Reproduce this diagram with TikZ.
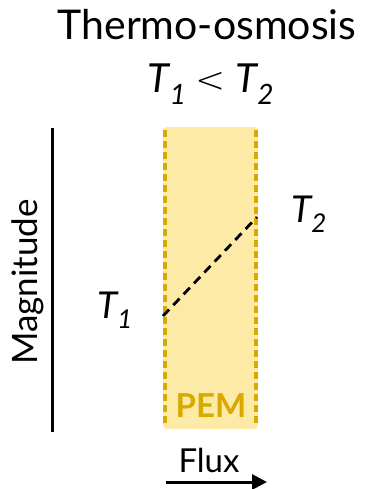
\documentclass[tikz,border=0pt]{standalone}
\usepackage{fontspec}
\setmainfont{Lato}
\newfontfamily\symfam{DejaVu Sans ExtraLight}
\usetikzlibrary{arrows.meta}
\definecolor{pemfill}{HTML}{FCEAA6}
\definecolor{pemgold}{HTML}{D8AA00}
\tikzset{
  lbl/.style={inner sep=0pt, anchor=base},
  pemedge/.style={draw=pemgold, line width=3.5pt, dash pattern=on 7pt off 4pt},
}
\begin{document}
\begin{tikzpicture}[x=1pt,y=-1pt]
\useasboundingbox (0,0) rectangle (368,489);
% PEM band
\fill[pemfill, rounded corners=4pt] (163,127) rectangle (258,429);
\coordinate (l1) at (165,130);
\coordinate (l2) at (165,426);
\coordinate (r1) at (256,130);
\coordinate (r2) at (256,426);
\draw[pemedge] (l1) -- (l2);
\draw[pemedge] (r1) -- (r2);
% axis
\coordinate (a1) at (52,128);
\coordinate (a2) at (52,432);
\draw[line width=3pt] (a1) -- (a2);
% texts
\node[lbl, font=\fontsize{41}{46}\selectfont] (title) at (207,40) {Thermo-osmosis};
\node[lbl, font=\fontsize{40}{46}\selectfont\itshape] (cond) at (211,93) {T\textsubscript{1} {\symfam\upshape\fontsize{36}{40}\selectfont <} T\textsubscript{2}};
\node[inner sep=0pt, rotate=90, font=\fontsize{35}{40}\selectfont] (mag) at (28,282) {Magnitude};
\node[inner sep=0pt, font=\fontsize{37}{40}\selectfont\itshape] (t2) at (309,214) {T\textsubscript{2}};
\node[inner sep=0pt, font=\fontsize{37}{40}\selectfont\itshape] (t1) at (115,310) {T\textsubscript{1}};
\node[inner sep=0pt, font=\fontsize{33}{36}\selectfont\bfseries, text=pemgold] (pem) at (211,406) {PEM};
\node[inner sep=0pt, font=\fontsize{33}{36}\selectfont] (flux) at (209,460) {Flux};
% profile
\coordinate (p1) at (163,316);
\coordinate (p2) at (257,217);
\draw[line width=2.8pt, dash pattern=on 9pt off 6pt] (p1) -- (p2);
% flux arrow
\coordinate (f1) at (166,482);
\coordinate (f2) at (267,482);
\draw[line width=3pt, -{Triangle[length=15pt,width=15pt]}] (f1) -- (f2);
\end{tikzpicture}
\end{document}
